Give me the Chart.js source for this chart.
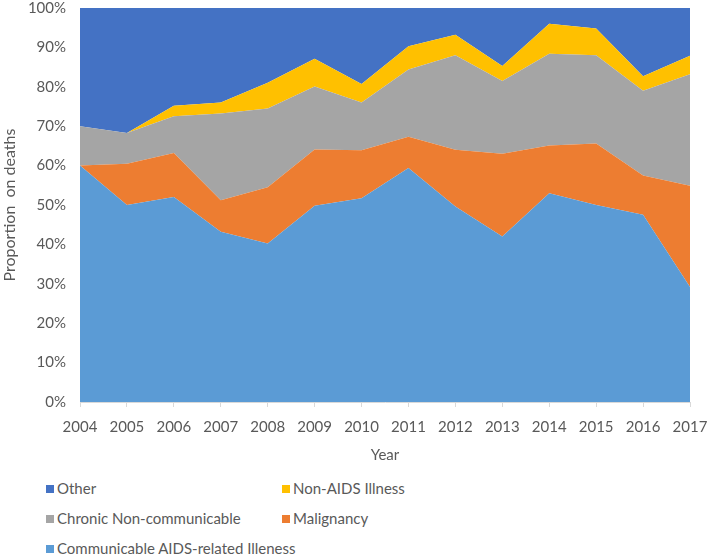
<!DOCTYPE html>
<html>
<head>
    <title>Causes of death by year</title>
    <script src="https://cdn.jsdelivr.net/npm/chart.js"></script>
    <style>
        body {
            margin: 0;
            background: #fff;
            font-family: Lato, "Open Sans", sans-serif;
            overflow: hidden;
        }
        .wrap {
            position: relative;
            width: 709px;
            height: 557px;
            overflow: hidden;
        }
        .chart-box {
            position: absolute;
            left: 0;
            top: -7px;
            width: 709px;
            height: 471px;
        }
        .legend {
            position: absolute;
            left: 0;
            top: 0;
            width: 709px;
        }
        .legend-item {
            position: absolute;
            font-size: 15px;
            color: #595959;
            line-height: 18px;
            white-space: nowrap;
        }
        .legend-item span {
            display: inline-block;
            width: 8px;
            height: 8px;
            margin-right: 3px;
            vertical-align: 1px;
        }
    </style>
</head>
<body>
<div class="wrap">
    <div class="chart-box"><canvas id="deathChart"></canvas></div>
    <div class="legend" id="legend"></div>
</div>

<script>
    // years and stacked shares (%), bottom series first
    const years = ['2004', '2005', '2006', '2007', '2008', '2009', '2010', '2011', '2012', '2013', '2014', '2015', '2016', '2017'];
    const communicable = [60, 50, 52, 43.2, 40.2, 49.8, 51.7, 59.4, 49.6, 42, 53, 50, 47.5, 29.2];
    const malignancy = [0, 10.5, 11.2, 8, 14.3, 14.3, 12.2, 7.9, 14.4, 21, 12.1, 15.6, 10, 25.7];
    const chronic = [10, 7.8, 9.3, 22, 20, 16, 12.1, 17.1, 24, 18.5, 23.3, 22.4, 21.5, 28.3];
    const nonAids = [0, 0, 2.7, 2.8, 6.5, 7, 4.7, 5.9, 5.2, 3.8, 7.6, 6.8, 3.7, 4.7];
    const other = [30, 31.7, 24.8, 24, 19, 12.9, 19.3, 9.7, 6.8, 14.7, 4, 5.2, 17.3, 12.1];
    const yTicks = [0, 10, 20, 30, 40, 50, 60, 70, 80, 90, 100];

    const textColor = '#595959';

    const series = [
        {label: 'Communicable AIDS-related Illeness', data: communicable, color: '#5b9bd5'},
        {label: 'Malignancy', data: malignancy, color: '#ed7d31'},
        {label: 'Chronic Non-communicable', data: chronic, color: '#a5a5a5'},
        {label: 'Non-AIDS Illness', data: nonAids, color: '#ffc000'},
        {label: 'Other', data: other, color: '#4472c4'}
    ];

    new Chart(document.getElementById('deathChart'), {
        type: 'line',
        data: {
            labels: years,
            datasets: series.map((s, i) => ({
                label: s.label,
                data: s.data,
                backgroundColor: s.color,
                borderColor: s.color,
                borderWidth: 0,
                pointRadius: 0,
                tension: 0,
                fill: i === 0 ? 'origin' : '-1'
            }))
        },
        options: {
            responsive: true,
            maintainAspectRatio: false,
            animation: false,
            layout: {padding: {top: 0, right: 19, left: 0, bottom: 0}},
            plugins: {
                legend: {display: false},
                tooltip: {enabled: false}
            },
            scales: {
                x: {
                    offset: false,
                    grid: {
                        display: true,
                        drawOnChartArea: false,
                        drawTicks: true,
                        tickLength: 5,
                        color: '#d9d9d9'
                    },
                    border: {color: '#d9d9d9'},
                    ticks: {
                        color: textColor,
                        font: {family: 'Lato', size: 15},
                        maxRotation: 0,
                        autoSkip: false,
                        padding: 11
                    },
                    title: {
                        display: true,
                        text: 'Year',
                        color: textColor,
                        font: {family: 'Lato', size: 15},
                        padding: {top: -8, bottom: 0}
                    },
                    afterFit: (scale) => {
                        scale.height = 62;
                        scale.paddingRight = 0;
                        scale.paddingLeft = 0;
                    }
                },
                y: {
                    stacked: true,
                    min: 0,
                    max: 100,
                    afterBuildTicks: (scale) => { scale.ticks = yTicks.map(v => ({value: v})); },
                    grid: {display: false},
                    border: {display: false},
                    ticks: {
                        color: textColor,
                        font: {family: 'Lato', size: 15},
                        padding: 6,
                        callback: (v) => v + '%'
                    },
                    title: {
                        display: true,
                        text: 'Proportion  on deaths',
                        color: textColor,
                        font: {family: 'Lato', size: 16},
                        padding: {top: 0, bottom: 2}
                    },
                    afterFit: (scale) => { scale.width = 80; }
                }
            }
        }
    });

    // legend in Excel-style two columns
    const legendOrder = [4, 3, 2, 1, 0];
    const legendEl = document.getElementById('legend');
    legendOrder.forEach((idx, k) => {
        const s = series[idx];
        const item = document.createElement('div');
        item.className = 'legend-item';
        item.style.left = (k % 2 === 0 ? 46 : 282) + 'px';
        item.style.top = (479 + Math.floor(k / 2) * 30) + 'px';
        item.innerHTML = '<span style="background:' + s.color + '"></span>' + s.label;
        legendEl.appendChild(item);
    });
</script>
</body>
</html>
